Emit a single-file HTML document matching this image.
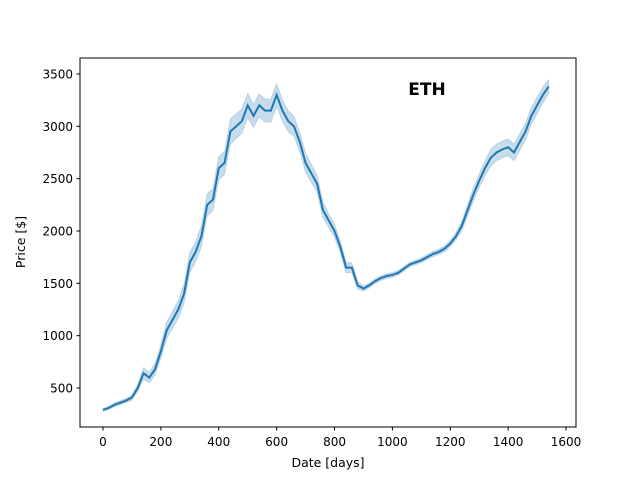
<!DOCTYPE html>
<html><head><meta charset="utf-8"><style>
body{margin:0;background:#fff;}
svg text{font-family:"DejaVu Sans","Liberation Sans",sans-serif;}
</style></head><body>
<svg id="chart" width="640" height="480" xmlns="http://www.w3.org/2000/svg">
<rect width="640" height="480" fill="#fff"/>
<g id="band"></g>
<g id="line"></g>
<rect x="80" y="58" width="496" height="369" fill="none" stroke="#000" stroke-width="1"/>
<g id="xt"></g>
<g id="yt"></g>
<text x="328" y="467" font-size="12.5" text-anchor="middle">Date [days]</text>
<text transform="translate(25,242) rotate(-90)" font-size="12.5" text-anchor="middle">Price [$]</text>
<text x="427" y="95" font-size="17" font-weight="bold" text-anchor="middle">ETH</text>
</svg>
<script>
const days=[0,20,40,60,80,100,120,140,160,180,200,220,240,260,280,300,320,340,360,380,400,420,440,460,480,500,520,540,560,580,600,620,640,660,680,700,720,740,760,780,800,820,840,860,880,900,920,940,960,980,1000,1020,1040,1060,1080,1100,1120,1140,1160,1180,1200,1220,1240,1260,1280,1300,1320,1340,1360,1380,1400,1420,1440,1460,1480,1500,1520,1540];
const prices=[290,310,340,360,380,410,500,640,600,680,850,1050,1150,1250,1400,1700,1800,1950,2250,2300,2600,2650,2950,3000,3050,3200,3100,3200,3150,3150,3300,3150,3050,3000,2850,2650,2550,2450,2200,2100,2000,1850,1650,1650,1480,1450,1480,1520,1550,1570,1580,1600,1640,1680,1700,1720,1750,1780,1800,1830,1880,1950,2050,2200,2350,2480,2600,2700,2750,2780,2800,2750,2850,2950,3100,3200,3300,3380];
const spread=[12,15,18,18,20,25,35,55,50,55,65,80,80,85,90,95,95,100,105,105,110,110,120,120,115,115,110,110,110,110,110,100,100,95,90,90,85,80,75,65,60,55,50,45,35,25,22,22,22,22,22,22,22,22,22,22,22,25,25,28,30,35,45,55,60,65,70,80,80,80,80,80,80,80,80,80,75,65];
const xTicks=[0,200,400,600,800,1000,1200,1400,1600];
const yTicks=[500,1000,1500,2000,2500,3000,3500];
const X=d=>103+d*0.2894, Y=v=>388-(v-500)*0.10467;
const NS='http://www.w3.org/2000/svg';
function mk(t,a){const e=document.createElementNS(NS,t);for(const k in a)e.setAttribute(k,a[k]);return e;}
let up=days.map((d,i)=>X(d)+','+Y(prices[i]+spread[i]));
let lo=days.map((d,i)=>X(d)+','+Y(prices[i]-spread[i])).reverse();
const band=mk('polygon',{points:up.concat(lo).join(' '),fill:'#1f77b4','fill-opacity':'0.25',stroke:'#1f77b4','stroke-opacity':'0.2'});


document.getElementById('band').appendChild(band);
const ln=mk('polyline',{points:days.map((d,i)=>X(d)+','+Y(prices[i])).join(' '),fill:'none',stroke:'#1f77b4','stroke-width':'2'});


document.getElementById('line').appendChild(ln);
const xt=document.getElementById('xt');
xTicks.forEach(t=>{const x=X(t);
 const l=mk('line',{x1:x,x2:x,y1:427,y2:430.5,stroke:'#000'});
 
 
 xt.appendChild(l);
 const tx=mk('text',{x:x,y:446,'font-size':'12','text-anchor':'middle'});tx.textContent=t;
 
 
 xt.appendChild(tx);});
const yt=document.getElementById('yt');
yTicks.forEach(t=>{const y=Y(t);
 const l=mk('line',{x1:76.5,x2:80,y1:y,y2:y,stroke:'#000'});
 
 
 yt.appendChild(l);
 const tx=mk('text',{x:73,y:y+4.5,'font-size':'12','text-anchor':'end'});tx.textContent=t;
 
 
 yt.appendChild(tx);});
</script>
</body></html>
